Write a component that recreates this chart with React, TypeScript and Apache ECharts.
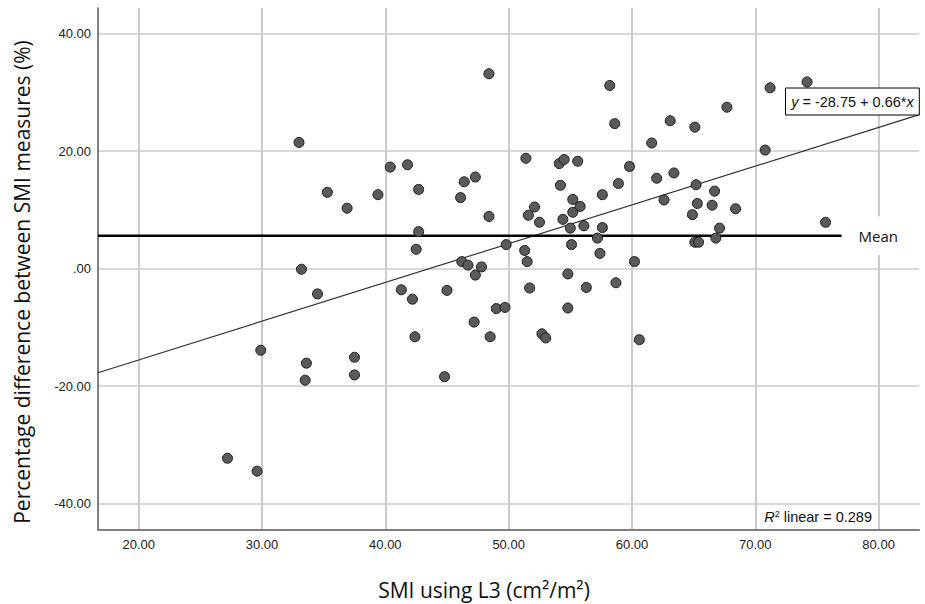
import React, { useEffect, useRef } from 'react';
import * as echarts from 'echarts';

// SMI using L3 (cm2/m2)
const smiL3 = [
  27.2, 29.6, 29.9, 33.0, 33.2, 33.5, 33.6, 34.5, 35.3, 36.9,
  37.5, 37.5, 39.4, 40.4, 41.3, 41.8, 42.2, 42.4, 42.5, 42.7,
  42.7, 44.8, 45.0, 46.1, 46.2, 46.4, 46.7, 47.2, 47.3, 47.3,
  47.8, 48.4, 48.4, 48.5, 49.0, 49.7, 49.8, 51.3, 51.4, 51.5,
  51.6, 51.7, 52.1, 52.5, 52.7, 53.0, 54.1, 54.2, 54.4, 54.5,
  54.8, 54.8, 55.0, 55.1, 55.2, 55.2, 55.6, 55.8, 56.1, 56.3,
  57.2, 57.4, 57.6, 57.6, 58.2, 58.6, 58.7, 58.9, 59.8, 60.2,
  60.6, 61.6, 62.0, 62.6, 63.1, 63.4, 64.9, 65.1, 65.1, 65.2,
  65.3, 65.4, 66.5, 66.7, 66.8, 67.1, 67.7, 68.4, 70.8, 71.2,
  74.2, 75.7,
];

// Percentage difference between SMI measures (%)
const pctDiff = [
  -32.3, -34.5, -13.9, 21.5, -0.1, -19.0, -16.1, -4.3, 13.0, 10.3,
  -15.1, -18.1, 12.6, 17.3, -3.6, 17.7, -5.2, -11.6, 3.3, 13.5,
  6.3, -18.4, -3.7, 12.1, 1.2, 14.8, 0.6, -9.1, 15.6, -1.1,
  0.3, 33.2, 8.9, -11.6, -6.8, -6.6, 4.1, 3.1, 18.8, 1.2,
  9.1, -3.3, 10.5, 7.9, -11.1, -11.8, 17.9, 14.2, 8.4, 18.6,
  -0.9, -6.7, 6.9, 4.1, 11.8, 9.6, 18.3, 10.6, 7.3, -3.2,
  5.2, 2.6, 12.6, 7.0, 31.2, 24.7, -2.4, 14.5, 17.4, 1.2,
  -12.1, 21.4, 15.4, 11.7, 25.2, 16.3, 9.2, 24.1, 4.5, 14.3,
  11.1, 4.5, 10.8, 13.2, 5.2, 6.9, 27.5, 10.2, 20.2, 30.8,
  31.8, 7.9,
];

const xTicks = [20, 30, 40, 50, 60, 70, 80];
const yTicks = [-40, -20, 0, 20, 40];
const xRange = [16.7, 83.3];
const yRange = [-44.4, 44.4];

const fitIntercept = -28.75;
const fitSlope = 0.66;
const rSquared = 0.289;
const meanValue = 5.6;
const meanEndX = 77;

const xTitle = 'SMI using L3 (cm²/m²)';
const yTitle = 'Percentage difference between SMI measures (%)';
const meanLabel = 'Mean';

export default function App() {
  const ref = useRef<HTMLDivElement>(null);

  useEffect(() => {
    document.body.style.margin = '0';
    if (!ref.current) return;
    const chart = echarts.init(ref.current, null, { renderer: 'svg' });

    const points = smiL3.map((x, i) => [x, pctDiff[i]]);
    const fitLine = xRange.map((x) => [x, fitIntercept + fitSlope * x]);
    const meanLine = [
      [xRange[0], meanValue],
      [meanEndX, meanValue],
    ];

    const tickFmt = (v: number) => (v === 0 ? '.00' : v.toFixed(2));

    chart.setOption({
      animation: false,
      backgroundColor: '#ffffff',
      grid: { left: 98, right: 5.7, top: 8, bottom: 74.7 },
      xAxis: {
        type: 'value',
        min: xRange[0],
        max: xRange[1],
        axisLine: { show: true, onZero: false, lineStyle: { color: '#555', width: 1.5 } },
        axisTick: { show: false, customValues: xTicks },
        axisLabel: {
          customValues: xTicks,
          formatter: tickFmt,
          fontSize: 13,
          fontFamily: 'Liberation Sans',
          color: '#222',
          margin: 9,
        },
        splitLine: { show: true, lineStyle: { color: '#cbcbcb', width: 2 } },
      },
      yAxis: {
        type: 'value',
        min: yRange[0],
        max: yRange[1],
        axisLine: { show: true, onZero: false, lineStyle: { color: '#555', width: 1.5 } },
        axisTick: { show: false, customValues: yTicks },
        axisLabel: {
          customValues: yTicks,
          formatter: tickFmt,
          fontSize: 13,
          fontFamily: 'Liberation Sans',
          color: '#222',
          margin: 7,
        },
        splitLine: { show: true, lineStyle: { color: '#cbcbcb', width: 1.5 } },
      },
      series: [
        {
          type: 'line',
          data: fitLine,
          showSymbol: false,
          symbol: 'none',
          lineStyle: { color: '#333', width: 1.2 },
          z: 3,
          silent: true,
        },
        {
          type: 'line',
          data: meanLine,
          showSymbol: false,
          symbol: 'none',
          lineStyle: { color: '#000', width: 2.5 },
          z: 4,
          silent: true,
          endLabel: {
            show: true,
            formatter: meanLabel,
            fontFamily: 'Open Sans',
            fontSize: 15,
            color: '#111',
            backgroundColor: '#ffffff',
            padding: [12, 8],
            distance: 9,
          },
        },
        {
          type: 'scatter',
          data: points,
          symbolSize: 10,
          itemStyle: { color: '#5a5a5a', borderColor: '#1a1a1a', borderWidth: 1, opacity: 1 },
          z: 5,
        },
      ],
      graphic: [
        {
          type: 'rect',
          shape: { x: 785.5, y: 88, width: 133.8, height: 27 },
          style: { fill: '#ffffff', stroke: '#000', lineWidth: 1 },
          z: 100,
        },
        {
          type: 'text',
          x: 852.4,
          y: 101.5,
          z: 101,
          style: {
            text: `{i|y}{n| = ${fitIntercept.toFixed(2)} + ${fitSlope.toFixed(2)}*}{i|x}`,
            align: 'center',
            verticalAlign: 'middle',
            rich: {
              i: { fontStyle: 'italic', fontSize: 14.5, fontFamily: 'Liberation Sans', fill: '#111' },
              n: { fontSize: 14.5, fontFamily: 'Liberation Sans', fill: '#111' },
            },
          },
        },
        {
          type: 'text',
          x: 872,
          y: 517,
          z: 101,
          style: {
            text: `{i|R}{s|2}{n| linear = ${rSquared.toFixed(3)}}`,
            align: 'right',
            verticalAlign: 'middle',
            rich: {
              i: { fontStyle: 'italic', fontSize: 14.5, fontFamily: 'Liberation Sans', fill: '#111' },
              s: { fontSize: 9, fontFamily: 'Liberation Sans', fill: '#111', verticalAlign: 'top', padding: [0, 0, 6, 0] },
              n: { fontSize: 14.5, fontFamily: 'Liberation Sans', fill: '#111' },
            },
          },
        },
        {
          type: 'text',
          x: 22,
          y: 282,
          rotation: Math.PI / 2,
          style: {
            text: yTitle,
            fontSize: 21,
            fontFamily: 'Open Sans',
            fill: '#111',
            align: 'center',
            verticalAlign: 'middle',
          },
        },
        {
          type: 'text',
          x: 484,
          y: 590,
          style: {
            text: xTitle,
            fontSize: 21,
            fontFamily: 'Open Sans',
            fill: '#111',
            align: 'center',
            verticalAlign: 'middle',
          },
        },
      ],
    });

    return () => chart.dispose();
  }, []);

  return (
    <div
      ref={ref}
      style={{ position: 'fixed', left: 0, top: 0, width: 925, height: 604 }}
    />
  );
}
